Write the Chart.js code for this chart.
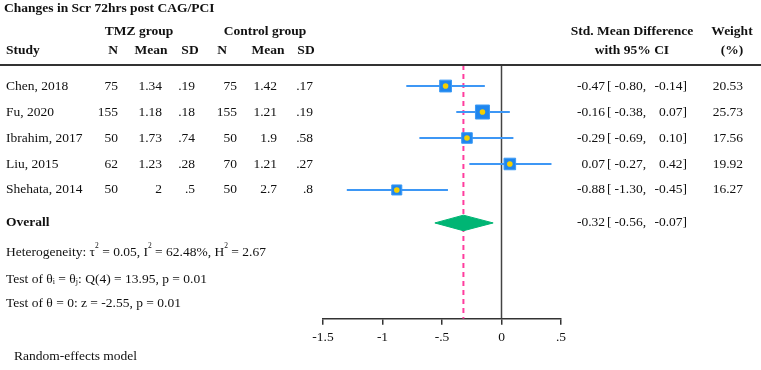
<!DOCTYPE html>
<html>
<head>
<meta charset="utf-8">
<script src="https://cdn.jsdelivr.net/npm/chart.js@4/dist/chart.umd.min.js"></script>
<style>
  html, body { margin: 0; padding: 0; background: #fff; }
  #wrap { width: 761px; height: 370px; }
</style>
</head>
<body>
<div id="wrap"><canvas id="forest" width="761" height="370"></canvas></div>
<script>
// study data
const studies = ['Chen, 2018', 'Fu, 2020', 'Ibrahim, 2017', 'Liu, 2015', 'Shehata, 2014'];
const tmzN = ['75', '155', '50', '62', '50'];
const tmzMean = ['1.34', '1.18', '1.73', '1.23', '2'];
const tmzSD = ['.19', '.18', '.74', '.28', '.5'];
const ctlN = ['75', '155', '50', '70', '50'];
const ctlMean = ['1.42', '1.21', '1.9', '1.21', '2.7'];
const ctlSD = ['.17', '.19', '.58', '.27', '.8'];
const smd = [-0.47, -0.16, -0.29, 0.07, -0.88];
const ciLow = [-0.80, -0.38, -0.69, -0.27, -1.30];
const ciHigh = [-0.14, 0.07, 0.10, 0.42, -0.45];
const weights = [20.53, 25.73, 17.56, 19.92, 16.27];

// pooled result
const overallSmd = -0.32;
const overallLow = -0.56;
const overallHigh = -0.07;

const xTicks = [-1.5, -1, -0.5, 0, 0.5];

const SERIF = '"Liberation Serif", "Times New Roman", serif';
const rows = studies.map((s, i) => i + 1);
const overallRow = 6.27;
const yMin = 0.19, yMax = 9.96;

function fmt(v) {
    return (v < 0 ? '-' : '') + Math.abs(v).toFixed(2);
}
function tickFmt(v) {
    if (v === 0) return '0';
    return (v < 0 ? '-' : '') + String(Math.abs(v)).replace(/^0/, '');
}

// text drawn around the plot: table columns, headers, stats
const tablePlugin = {
    id: 'table',
    afterDraw(chart) {
        const ctx = chart.ctx;
        const y = chart.scales.y;
        const area = chart.chartArea;
        ctx.save();
        ctx.fillStyle = '#111';
        ctx.textBaseline = 'middle';

        const txt = (s, x, yy, align, bold) => {
            ctx.font = (bold ? 'bold ' : '') + '13.5px ' + SERIF;
            ctx.textAlign = align || 'left';
            ctx.fillText(s, x, yy);
        };

        txt('Changes in Scr 72hrs post CAG/PCI', 4, 9, 'left', true);
        txt('TMZ group', 139, 32, 'center', true);
        txt('Control group', 265, 32, 'center', true);
        txt('Study', 6, 51, 'left', true);
        txt('N', 118, 51, 'right', true);
        txt('Mean', 151, 51, 'center', true);
        txt('SD', 190, 51, 'center', true);
        txt('N', 227, 51, 'right', true);
        txt('Mean', 268, 51, 'center', true);
        txt('SD', 306, 51, 'center', true);
        txt('Std. Mean Difference', 632, 32, 'center', true);
        txt('with 95% CI', 632, 51, 'center', true);
        txt('Weight', 732, 32, 'center', true);
        txt('(%)', 732, 51, 'center', true);

        ctx.strokeStyle = '#333';
        ctx.lineWidth = 2;
        ctx.beginPath();
        ctx.moveTo(0, area.top);
        ctx.lineTo(761, area.top);
        ctx.stroke();

        const ciText = (est, lo, hi, yy) => {
            txt(fmt(est), 605, yy, 'right');
            txt('[', 607, yy, 'left');
            txt(fmt(lo) + ',', 646, yy, 'right');
            txt(fmt(hi) + ']', 687, yy, 'right');
        };

        studies.forEach((s, i) => {
            const yy = y.getPixelForValue(rows[i]);
            txt(s, 6, yy);
            txt(tmzN[i], 118, yy, 'right');
            txt(tmzMean[i], 162, yy, 'right');
            txt(tmzSD[i], 195, yy, 'right');
            txt(ctlN[i], 237, yy, 'right');
            txt(ctlMean[i], 277, yy, 'right');
            txt(ctlSD[i], 313, yy, 'right');
            ciText(smd[i], ciLow[i], ciHigh[i], yy);
            txt(weights[i].toFixed(2), 743, yy, 'right');
        });

        const oy = y.getPixelForValue(overallRow);
        txt('Overall', 6, oy, 'left', true);
        ciText(overallSmd, overallLow, overallHigh, oy);

        // runs of text with super/subscripts
        const rich = (parts, x, yy) => {
            ctx.textAlign = 'left';
            parts.forEach(p => {
                let size = 13.5, dy = 0;
                if (p[1] === 'sup') { size = 7.5; dy = -6; }
                if (p[1] === 'sub') { size = 8; dy = 3; }
                ctx.font = size + 'px ' + SERIF;
                ctx.fillText(p[0], x, yy + dy);
                x += ctx.measureText(p[0]).width;
            });
        };
        rich([['Heterogeneity: \u03c4'], ['2', 'sup'], [' = 0.05, I'], ['2', 'sup'], [' = 62.48%, H'], ['2', 'sup'], [' = 2.67']], 6, 252);
        rich([['Test of \u03b8'], ['i', 'sub'], [' = \u03b8'], ['j', 'sub'], [': Q(4) = 13.95, p = 0.01']], 6, 279);
        rich([['Test of \u03b8 = 0: z = -2.55, p = 0.01']], 6, 303);
        rich([['Random-effects model']], 14, 356);
        ctx.restore();
    }
};

const halfH = 0.3;
const datasets = [];

// study point estimates: yellow dot on a weighted blue square
datasets.push({
    type: 'scatter', order: 0,
    data: smd.map((v, i) => ({ x: v, y: rows[i] })),
    pointStyle: 'circle', pointRadius: 2.8,
    backgroundColor: '#f5d000', borderWidth: 0
});
datasets.push({
    type: 'scatter', order: 1,
    data: smd.map((v, i) => ({ x: v, y: rows[i] })),
    pointStyle: 'rect',
    pointRadius: weights.map(w => (0.42 * w + 3.2) / Math.SQRT2),
    backgroundColor: '#1f86ee', borderColor: '#3b9af5', borderWidth: 1
});

// confidence intervals
smd.forEach((v, i) => {
    datasets.push({
        type: 'line', order: 3,
        data: [{ x: ciLow[i], y: rows[i] }, { x: ciHigh[i], y: rows[i] }],
        borderColor: '#3d97f5', borderWidth: 2, pointRadius: 0
    });
});

// overall diamond (upper half filled to lower half)
datasets.push({
    type: 'line', order: 2,
    data: [{ x: overallLow, y: overallRow }, { x: overallSmd, y: overallRow - halfH }, { x: overallHigh, y: overallRow }],
    borderColor: '#00b574', backgroundColor: '#00b574', borderWidth: 1,
    pointRadius: 0, fill: '+1', tension: 0
});
datasets.push({
    type: 'line', order: 2,
    data: [{ x: overallLow, y: overallRow }, { x: overallSmd, y: overallRow + halfH }, { x: overallHigh, y: overallRow }],
    borderColor: '#00b574', borderWidth: 1, pointRadius: 0, fill: false, tension: 0
});

// reference lines: no effect and pooled estimate
datasets.push({
    type: 'line', order: 4,
    data: [{ x: 0, y: yMin }, { x: 0, y: yMax }],
    borderColor: '#444', borderWidth: 1.5, pointRadius: 0
});
datasets.push({
    type: 'line', order: 5,
    data: [{ x: overallSmd, y: yMin }, { x: overallSmd, y: yMax }],
    borderColor: '#ff3d9e', borderWidth: 2, borderDash: [5, 4], pointRadius: 0
});

new Chart(document.getElementById('forest'), {
    type: 'scatter',
    data: { datasets },
    options: {
        responsive: false,
        animation: false,
        layout: { padding: { left: 323, right: 200, top: 65, bottom: 19 } },
        plugins: { legend: { display: false }, tooltip: { enabled: false } },
        scales: {
            x: {
                type: 'linear', min: -1.5, max: 0.5,
                afterBuildTicks: axis => { axis.ticks = xTicks.map(v => ({ value: v })); },
                ticks: {
                    callback: v => tickFmt(v),
                    color: '#111', padding: 5,
                    font: { family: SERIF, size: 13.5 }
                },
                grid: { drawOnChartArea: false, drawTicks: true, tickLength: 6, color: '#333', lineWidth: 1.5 },
                border: { display: true, color: '#333', width: 1.5 }
            },
            y: {
                type: 'linear', display: false, reverse: true, min: yMin, max: yMax
            }
        }
    },
    plugins: [tablePlugin]
});
</script>
</body>
</html>
